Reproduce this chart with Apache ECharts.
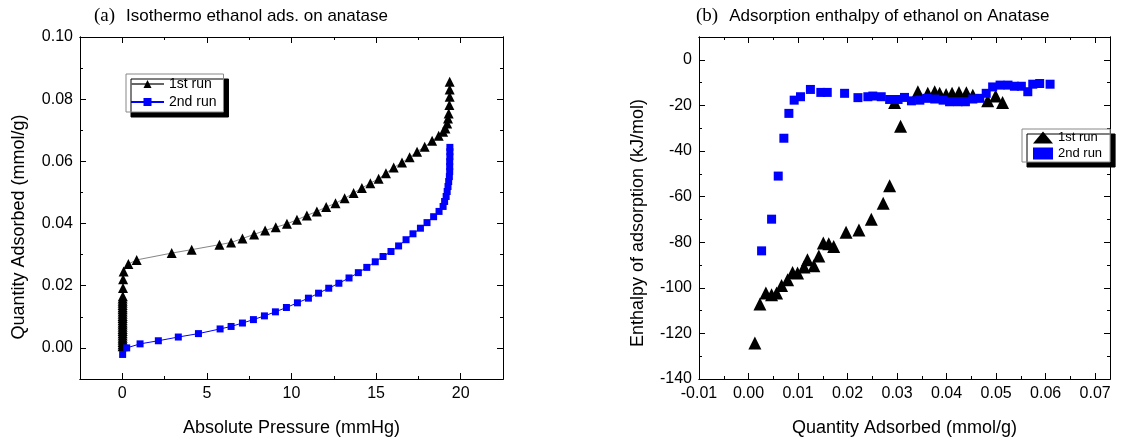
<!DOCTYPE html>
<html>
<head>
<meta charset="utf-8">
<script src="https://cdn.jsdelivr.net/npm/echarts@6/dist/echarts.min.js"></script>
<style>html,body{margin:0;padding:0;background:#fff}#c{width:1125px;height:442px}</style>
</head>
<body>
<div id="c"></div>
<script>
// ---------- (a) isotherm: pressure (mmHg) vs quantity adsorbed (mmol/g)
const pRun1 = [0.02,0.02,0.02,0.02,0.02,0.02,0.02,0.02,0.02,0.02,0.02,0.02,0.02,0.02,0.02,0.02,0.02,0.02,0.02,0.02,0.02,0.02,0.02,
  0.03,0.04,0.05,0.08,0.36,0.85,2.92,4.1,5.74,6.43,7.1,7.79,8.44,9.07,9.73,10.32,10.91,11.5,12.05,12.6,13.14,13.67,14.16,14.66,
  15.15,15.58,16.04,16.53,16.98,17.42,17.87,18.31,18.7,18.96,19.1,19.2,19.25,19.29,19.33,19.35,19.35,19.35];
const qRun1 = [0.0005,0.0012,0.0019,0.0026,0.0033,0.004,0.0047,0.0054,0.0061,0.0068,0.0075,0.0082,0.0089,0.0096,0.0103,0.011,0.0117,0.0124,0.0131,0.0138,0.0145,0.0152,0.0159,
  0.0166,0.0193,0.0221,0.0246,0.027,0.0283,0.0305,0.0316,0.0332,0.0339,0.0352,0.0365,0.0378,0.0388,0.0399,0.0412,0.0426,0.0439,0.0453,0.0465,0.0481,0.0498,0.0514,0.053,
  0.0544,0.0562,0.058,0.0596,0.0613,0.0631,0.0647,0.0666,0.0682,0.0695,0.0706,0.0722,0.0738,0.0754,0.0781,0.0808,0.0831,0.0856];
const pRun2 = [0.02,0.26,1.05,2.13,3.31,4.5,5.78,6.43,7.1,7.75,8.4,9.05,9.7,10.35,11.0,11.6,12.2,12.8,13.4,13.95,14.45,14.95,
  15.41,15.88,16.33,16.77,17.18,17.62,18.01,18.4,18.72,18.96,19.05,19.14,19.2,19.25,19.29,19.33,19.35,19.35,19.35,19.36,19.36,19.36];
const qRun2 = [-0.0021,0.0,0.0013,0.0023,0.0035,0.0046,0.0061,0.0069,0.008,0.0091,0.0103,0.0116,0.013,0.0145,0.016,0.0176,0.0192,0.0208,0.0225,0.0242,0.0259,0.0277,
  0.0294,0.031,0.0328,0.0348,0.0367,0.0385,0.0403,0.0422,0.0439,0.0455,0.0471,0.0487,0.0503,0.0519,0.0535,0.0551,0.0567,0.0583,0.0599,0.0615,0.0631,0.0645];

// ---------- (b) enthalpy (kJ/mol) vs quantity adsorbed (mmol/g)
const nRun1 = [0.00129,0.0023,0.0035,0.00466,0.00567,0.00667,0.0079,0.0089,0.0099,0.0112,0.0119,0.0132,0.0142,0.0151,0.0162,0.0172,
  0.0197,0.0223,0.0248,0.0272,0.0285,0.0307,0.0295,0.0342,0.0362,0.0376,0.0386,0.0399,0.0411,0.0425,0.044,0.0453,0.0483,0.0499,0.0513];
const hRun1 = [-124.2,-107.1,-102.3,-103,-102.3,-99,-96.5,-93.3,-93.5,-90.9,-87.7,-90.3,-86,-80.4,-80.7,-81.9,
  -75.6,-74.6,-69.9,-62.9,-55.2,-29.1,-18.7,-14.0,-14.7,-14,-14.7,-15.2,-14.7,-14.3,-14.5,-15.5,-18,-15.9,-18.7];
const nRun2 = [0.00264,0.00466,0.006,0.00714,0.00815,0.00922,0.0105,0.0125,0.0146,0.0159,0.0194,0.0221,0.0241,0.0251,0.0268,0.0285,
  0.0302,0.0315,0.0329,0.0346,0.036,0.0376,0.0393,0.0406,0.0423,0.0438,0.0453,0.0467,0.048,0.0493,0.0508,0.0524,0.0537,0.0551,0.0564,0.0574,0.0588,0.0609];
const hRun2 = [-83.8,-69.9,-51,-34.4,-23.5,-17.7,-16.2,-13.0,-14.3,-14.3,-14.7,-16.6,-16.2,-15.9,-16.2,-17.4,
  -17.4,-16.5,-18,-17.7,-16.9,-17.2,-17.7,-18.4,-18.4,-18.4,-17.2,-16.9,-14.7,-11.9,-11.1,-11.1,-11.6,-11.6,-14,-10.7,-10.4,-10.7];

// ---------- tick values
const aXMajor = [0,5,10,15,20];
const aXMinor = [2.5,7.5,12.5,17.5];
const aYMajor = [0,0.02,0.04,0.06,0.08,0.1];
const aYMinor = [0.01,0.03,0.05,0.07,0.09];
const bXMajor = [-0.01,0,0.01,0.02,0.03,0.04,0.05,0.06,0.07];
const bXMinor = [-0.005,0.005,0.015,0.025,0.035,0.045,0.055,0.065];
const bYMajor = [-140,-120,-100,-80,-60,-40,-20,0];
const bYMinor = [-130,-110,-90,-70,-50,-30,-10];

const zip = (a, b) => a.map((v, i) => [v, b[i]]);
const SANS = 'Liberation Sans, Arial, sans-serif';
const SERIF = 'Liberation Serif, Times New Roman, serif';

function sideAxes(dim, grid, min, max, majors, minors, fmt, name, nameGap, namePad) {
  const pos = dim === 'x' ? ['bottom', 'top'] : ['left', 'right'];
  const base = (position, ticks, len, labels) => ({
    type: 'value', gridIndex: grid, position, min, max,
    splitLine: { show: false },
    axisLine: { show: true, onZero: false, lineStyle: { color: '#000', width: 1 } },
    axisTick: { show: true, inside: true, length: len, customValues: ticks, lineStyle: { color: '#000', width: 1 } },
    axisLabel: labels ? { show: true, customValues: majors, formatter: fmt, color: '#000', fontSize: 16, fontFamily: SANS, margin: 7 } : { show: false }
  });
  const main = base(pos[0], majors, 6, true);
  main.name = name;
  main.nameLocation = 'middle';
  main.nameGap = nameGap;
  main.nameTextStyle = { color: '#000', fontSize: 18, fontFamily: SANS, padding: namePad };
  return [main, base(pos[0], minors, 3, false), base(pos[1], majors, 6, false), base(pos[1], minors, 3, false)];
}

const xAxes = [].concat(
  sideAxes('x', 0, -2.5, 22.5, aXMajor, aXMinor, v => String(Math.round(v)), 'Absolute Pressure (mmHg)', 40, 0),
  sideAxes('x', 1, -0.01, 0.073, bXMajor, bXMinor, v => v.toFixed(2), 'Quantity Adsorbed (mmol/g)', 40, 0)
);
const yAxes = [].concat(
  sideAxes('y', 0, -0.01, 0.10, aYMajor, aYMinor, v => v.toFixed(2), 'Quantity Adsorbed (mmol/g)', 52, [0, 38, 0, 0]),
  sideAxes('y', 1, -140, 10, bYMajor, bYMinor, v => String(Math.round(v)), 'Enthalpy of adsorption (kJ/mol)', 52, [0, 30, 0, 0])
);

const legendBox = {
  orient: 'vertical', backgroundColor: '#fff', borderColor: '#888', borderWidth: 1,
  shadowColor: '#000', shadowBlur: 0, shadowOffsetX: 5, shadowOffsetY: 5,
  formatter: n => n.trim(), itemGap: 4
};
const titleRich = {
  a: { fontFamily: SERIF, fontSize: 19, fontWeight: 'normal', color: '#000', padding: [0, 11, 0, 0] },
  b: { fontFamily: SANS, fontSize: 17, fontWeight: 'normal', color: '#000' }
};

const chart = echarts.init(document.getElementById('c'), null, { renderer: 'canvas' });
chart.setOption({
  animation: false,
  backgroundColor: '#fff',
  title: [
    { left: 89, top: 2, text: '{a|(a)}{b|Isothermo ethanol ads. on anatase}',
      textStyle: { fontWeight: 'normal', rich: titleRich } },
    { left: 691, top: 2, text: '{a|(b)}{b|Adsorption enthalpy of ethanol on Anatase}',
      textStyle: { fontWeight: 'normal', rich: titleRich } }
  ],
  grid: [
    { left: 80, top: 37, width: 423, height: 342 },
    { left: 699, top: 37, width: 411, height: 342 }
  ],
  xAxis: xAxes,
  yAxis: yAxes,
  legend: [
    Object.assign({}, legendBox, { left: 126, top: 74, padding: [3, 7, 3, 4], itemWidth: 33, itemHeight: 10,
      textStyle: { fontSize: 14, fontFamily: SANS, color: '#000' }, data: ['1st run', '2nd run'] }),
    Object.assign({}, legendBox, { left: 1022, top: 129, padding: [2, 8, 2, 11], itemWidth: 20, itemHeight: 12, itemGap: 3,
      textStyle: { fontSize: 13, fontFamily: SANS, color: '#000' }, data: ['1st run ', '2nd run '] })
  ],
  series: [
    { name: '1st run', type: 'line', xAxisIndex: 0, yAxisIndex: 0, data: zip(pRun1, qRun1),
      symbol: 'triangle', symbolSize: 10, showAllSymbol: true,
      itemStyle: { color: '#000', opacity: 1 }, lineStyle: { color: '#666', width: 0.8 } },
    { name: '2nd run', type: 'line', xAxisIndex: 0, yAxisIndex: 0, data: zip(pRun2, qRun2),
      symbol: 'rect', symbolSize: 7, showAllSymbol: true,
      itemStyle: { color: '#0000ff', opacity: 1 }, lineStyle: { color: '#0000ff', width: 1 } },
    { name: '1st run ', type: 'scatter', xAxisIndex: 4, yAxisIndex: 4, data: zip(nRun1, hRun1),
      symbol: 'triangle', symbolSize: 13, itemStyle: { color: '#000', opacity: 1 } },
    { name: '2nd run ', type: 'scatter', xAxisIndex: 4, yAxisIndex: 4, data: zip(nRun2, hRun2),
      symbol: 'rect', symbolSize: 9, itemStyle: { color: '#0000ff', opacity: 1 } }
  ]
});
</script>
</body>
</html>
